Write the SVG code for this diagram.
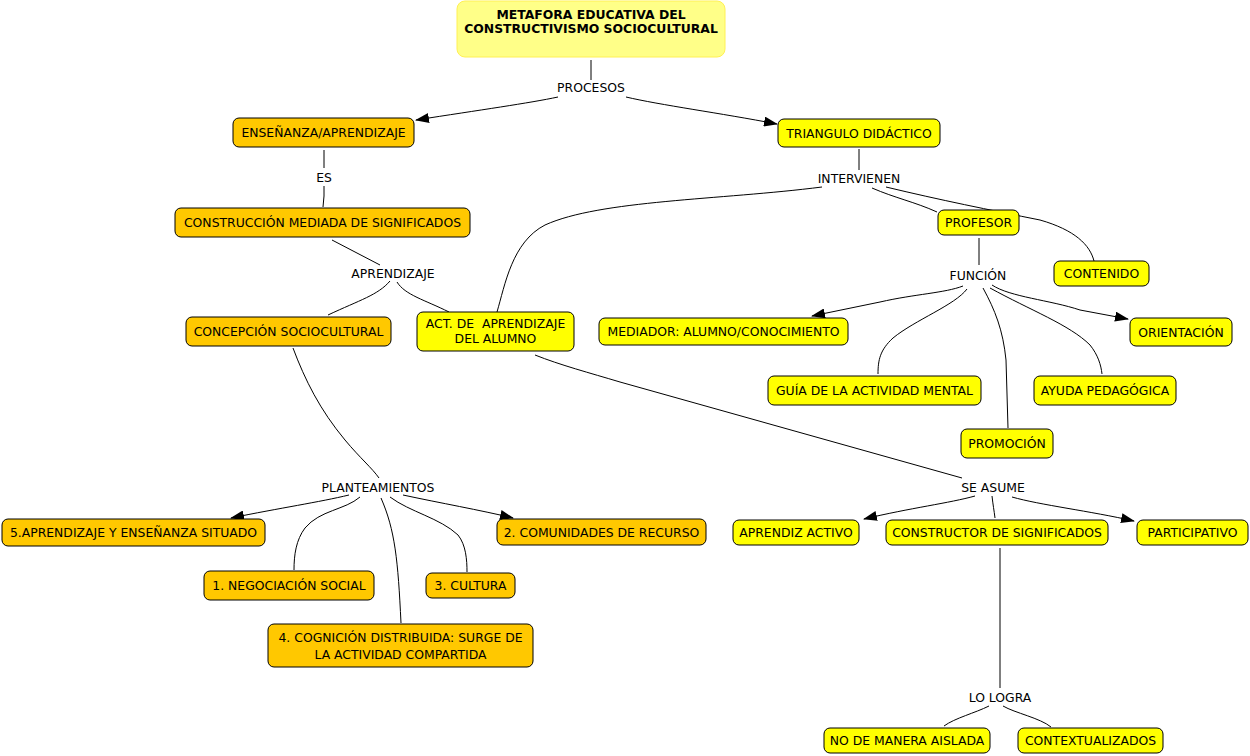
<svg xmlns="http://www.w3.org/2000/svg" width="1250" height="756" viewBox="0 0 1250 756">
<defs>
<marker id="ah" markerWidth="14" markerHeight="10" refX="13" refY="5" orient="auto" markerUnits="userSpaceOnUse">
<path d="M0,0 L14,5 L0,10 Z" fill="#000"/>
</marker>
<style>
.o rect{fill:#FFC800;stroke:#000;stroke-width:1}
.y rect{fill:#FFFF00;stroke:#000;stroke-width:1}
text{font-family:"DejaVu Sans",Verdana,sans-serif;font-size:12.4px;fill:#000;text-anchor:middle;white-space:pre}
.t text{font-weight:bold;font-size:12.4px}
#conn path{fill:none;stroke:#000;stroke-width:1}
.arr{marker-end:url(#ah)}
</style>
</defs>
<rect width="1250" height="756" fill="#fff"/>
<g id="conn">
<path d="M591,60 L591,80"/>
<path class="arr" d="M558,97 C530,103 480,110 416,120"/>
<path class="arr" d="M626,97 C660,105 720,113 777,124"/>
<path d="M324,150 L324,168"/>
<path d="M324,186 L324,196 L323,207"/>
<path d="M332,240 L380,265"/>
<path d="M390,281 C378,295 360,300 328,315"/>
<path d="M397,282 C405,295 425,300 449,312"/>
<path d="M859,149 L859,170"/>
<path d="M822,187 C720,200 600,200 545,225 C512,242 505,285 497,312"/>
<path d="M872,188 C895,198 915,202 937,212"/>
<path d="M886,187 C940,200 990,210 1040,220 C1075,230 1090,245 1094,261"/>
<path d="M979,238 L979,265"/>
<path class="arr" d="M963,286 C945,293 915,294 880,302 L812,316"/>
<path d="M967,289 C955,305 915,320 893,338 C880,350 878,360 878,374"/>
<path d="M983,288 C995,310 1003,330 1006,360 L1008,428"/>
<path d="M990,288 C1030,310 1070,325 1090,345 C1098,355 1101,365 1102,374"/>
<path class="arr" d="M992,285 C1010,297 1050,300 1080,310 L1128,319"/>
<path d="M293,348 C305,380 320,410 345,440 C360,458 372,468 379,478"/>
<path d="M535,355 C560,365 590,373 620,382 L962,478"/>
<path class="arr" d="M349,495 C320,502 280,508 231,518"/>
<path d="M360,497 C345,510 320,510 305,528 C296,540 294,555 294,570"/>
<path d="M381,498 C395,530 398,560 401,623"/>
<path d="M390,497 C410,512 440,518 458,535 C466,545 467,560 467,572"/>
<path class="arr" d="M403,495 C440,503 480,510 513,518"/>
<path class="arr" d="M975,496 C950,503 910,508 864,519"/>
<path d="M992,496 C993,505 994,510 995,518"/>
<path class="arr" d="M1012,497 C1040,505 1090,511 1134,521"/>
<path d="M1000,548 L1000,688"/>
<path d="M989,706 C975,713 955,718 944,726"/>
<path d="M1003,706 C1015,713 1040,718 1051,727"/>
</g>
<g id="n-title" class="t"><rect x="457" y="1" width="268" height="56" rx="8" fill="#FFFF88" stroke="#FFF055" stroke-width="1"/><text x="591" y="19">METAFORA EDUCATIVA DEL</text><text x="591" y="33">CONSTRUCTIVISMO SOCIOCULTURAL</text></g>
<g id="l-procesos"><text x="591" y="92">PROCESOS</text></g>
<g id="n-ensenanza" class="o"><rect x="233" y="118" width="181" height="29" rx="6"/><text x="323.5" y="137">ENSEÑANZA/APRENDIZAJE</text></g>
<g id="n-triangulo" class="y"><rect x="778" y="119" width="162" height="28" rx="6"/><text x="859" y="138">TRIANGULO DIDÁCTICO</text></g>
<g id="l-es"><text x="324" y="182">ES</text></g>
<g id="l-intervienen"><text x="859" y="183">INTERVIENEN</text></g>
<g id="n-construccion" class="o"><rect x="175" y="208" width="295" height="29" rx="6"/><text x="322.5" y="227">CONSTRUCCIÓN MEDIADA DE SIGNIFICADOS</text></g>
<g id="n-profesor" class="y"><rect x="938" y="210" width="81" height="25" rx="6"/><text x="978.5" y="227">PROFESOR</text></g>
<g id="n-contenido" class="y"><rect x="1054" y="261" width="95" height="25" rx="6"/><text x="1101.5" y="278">CONTENIDO</text></g>
<g id="l-aprendizaje"><text x="393" y="278">APRENDIZAJE</text></g>
<g id="l-funcion"><text x="978" y="280">FUNCIÓN</text></g>
<g id="n-concepcion" class="o"><rect x="186" y="317" width="205" height="29" rx="6"/><text x="288.5" y="336">CONCEPCIÓN SOCIOCULTURAL</text></g>
<g id="n-act" class="y"><rect x="417" y="312" width="157" height="39" rx="6"/><text x="495.5" y="328">ACT. DE  APRENDIZAJE</text><text x="495.5" y="343">DEL ALUMNO</text></g>
<g id="n-mediador" class="y"><rect x="599" y="318" width="249" height="27" rx="6"/><text x="723.5" y="336">MEDIADOR: ALUMNO/CONOCIMIENTO</text></g>
<g id="n-orientacion" class="y"><rect x="1130" y="318" width="102" height="28" rx="6"/><text x="1181" y="337">ORIENTACIÓN</text></g>
<g id="n-guia" class="y"><rect x="768" y="376" width="213" height="29" rx="6"/><text x="874.5" y="395">GUÍA DE LA ACTIVIDAD MENTAL</text></g>
<g id="n-ayuda" class="y"><rect x="1034" y="376" width="142" height="29" rx="6"/><text x="1105" y="395">AYUDA PEDAGÓGICA</text></g>
<g id="n-promocion" class="y"><rect x="961" y="429" width="92" height="29" rx="6"/><text x="1007" y="448">PROMOCIÓN</text></g>
<g id="l-planteamientos"><text x="378" y="492">PLANTEAMIENTOS</text></g>
<g id="l-seasume"><text x="993" y="492">SE ASUME</text></g>
<g id="n-5" class="o"><rect x="2" y="519" width="263" height="27" rx="6"/><text x="133.5" y="537">5.APRENDIZAJE Y ENSEÑANZA SITUADO</text></g>
<g id="n-2" class="o"><rect x="497" y="519" width="209" height="26" rx="6"/><text x="601.5" y="537">2. COMUNIDADES DE RECURSO</text></g>
<g id="n-1" class="o"><rect x="204" y="571" width="170" height="29" rx="6"/><text x="289" y="590">1. NEGOCIACIÓN SOCIAL</text></g>
<g id="n-3" class="o"><rect x="426" y="573" width="89" height="25" rx="6"/><text x="470.5" y="590">3. CULTURA</text></g>
<g id="n-4" class="o"><rect x="268" y="624" width="265" height="43" rx="6"/><text x="400.5" y="642">4. COGNICIÓN DISTRIBUIDA: SURGE DE</text><text x="400.5" y="659">LA ACTIVIDAD COMPARTIDA</text></g>
<g id="n-aprendiz" class="y"><rect x="733" y="520" width="126" height="25" rx="6"/><text x="796" y="537">APRENDIZ ACTIVO</text></g>
<g id="n-constructor" class="y"><rect x="886" y="520" width="222" height="25" rx="6"/><text x="997" y="537">CONSTRUCTOR DE SIGNIFICADOS</text></g>
<g id="n-participativo" class="y"><rect x="1137" y="520" width="111" height="25" rx="6"/><text x="1192.5" y="537">PARTICIPATIVO</text></g>
<g id="l-lologra"><text x="1000" y="702">LO LOGRA</text></g>
<g id="n-aislada" class="y"><rect x="824" y="728" width="166" height="25" rx="6"/><text x="907" y="745">NO DE MANERA AISLADA</text></g>
<g id="n-contextualizados" class="y"><rect x="1018" y="728" width="145" height="25" rx="6"/><text x="1090.5" y="745">CONTEXTUALIZADOS</text></g>
</svg>
